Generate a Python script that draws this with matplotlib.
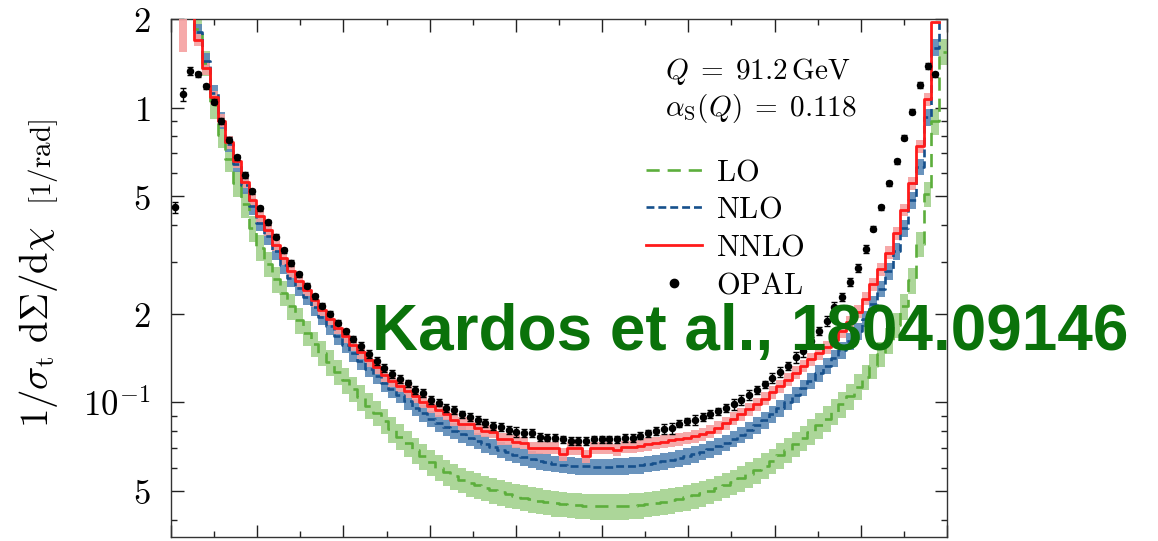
import numpy as np
import matplotlib
matplotlib.use("Agg")
import matplotlib.pyplot as plt
from matplotlib.lines import Line2D
from matplotlib.ticker import FixedLocator, FixedFormatter, NullFormatter, MultipleLocator

plt.rcParams['mathtext.fontset'] = 'cm'
plt.rcParams['font.family'] = ['DejaVu Serif']

# EEC histogram, 100 bins of 1.8 deg in chi
bin_width = 1.8
n_bins = 100

# OPAL data points (nan = no point shown)
opal = [0.459, 1.113, 1.335, 1.30, 1.181, 1.048, 0.901, 0.779, 0.679, 0.591,
        0.520, 0.456, 0.409, 0.365, 0.328, 0.297, 0.272, 0.249, 0.229, 0.213,
        0.200, 0.186, 0.174, 0.164, 0.155, 0.146, 0.138, 0.131, 0.125, 0.120,
        0.116, 0.110, 0.1075, 0.102, 0.0998, 0.0959, 0.0940, 0.0910, 0.0892, 0.0869,
        0.0853, 0.0833, 0.0825, 0.0804, 0.0793, 0.0787, 0.0787, 0.0762, 0.0759, 0.0759,
        0.0749, 0.0740, 0.0740, 0.0740, 0.0749, 0.0749, 0.0749, 0.0749, 0.0757, 0.0758,
        0.0771, 0.0784, 0.0798, 0.0810, 0.0815, 0.0847, 0.0862, 0.0873, 0.0890, 0.0914,
        0.0932, 0.0957, 0.0984, 0.102, 0.106, 0.110, 0.115, 0.121, 0.127, 0.133,
        0.142, 0.149, 0.162, 0.175, 0.189, 0.210, 0.228, 0.256, 0.286, 0.332,
        0.388, 0.459, 0.554, 0.658, 0.791, 0.969, 1.194, 1.385, 1.30, np.nan]

# OPAL errors in percent
opal_err_pct = [4, 5, 3, 2, 2, 2, 2, 2, 2, 2,
                2, 2, 2, 2, 2, 2, 2, 2, 2, 2,
                2, 2, 2, 2, 3, 3, 3, 3, 3, 3,
                3, 3, 3, 3, 3, 3, 3, 3, 3, 3,
                3, 3, 3, 3, 4, 3, 3, 3, 3, 3,
                3, 3, 3, 3, 3, 3, 3, 3, 3, 3,
                3, 3, 3, 4, 4, 3, 3, 4, 3, 3,
                3, 3, 4, 4, 4, 3, 3, 4, 4, 3,
                4, 4, 3, 3, 4, 4, 3, 3, 3, 3,
                2, 2, 2, 2, 2, 2, 2, 2, 2, 0]

nnlo = [np.nan, np.nan, 2.4, 1.70, 1.36, 1.083, 0.904, 0.763, 0.658, 0.561,
        0.485, 0.428, 0.385, 0.343, 0.308, 0.279, 0.259, 0.241, 0.222, 0.206,
        0.192, 0.179, 0.1675, 0.157, 0.148, 0.139, 0.1315, 0.1238, 0.1185, 0.114,
        0.109, 0.105, 0.1005, 0.097, 0.094, 0.0914, 0.0874, 0.0847, 0.0847, 0.0816,
        0.0800, 0.0795, 0.0752, 0.0752, 0.0735, 0.0728, 0.0701, 0.0701, 0.0701, 0.0701,
        0.0667, 0.0697, 0.0697, 0.0655, 0.0701, 0.0701, 0.0701, 0.0690, 0.0706, 0.0706,
        0.0712, 0.0721, 0.0728, 0.0735, 0.0742, 0.0750, 0.0757, 0.0768, 0.0780, 0.0795,
        0.0820, 0.0850, 0.0880, 0.0912, 0.0948, 0.0985, 0.1030, 0.1080, 0.1135, 0.1195,
        0.1260, 0.1330, 0.1400, 0.1470, 0.1540, 0.1630, 0.1740, 0.1870, 0.2030, 0.2250,
        0.2520, 0.2830, 0.3220, 0.3750, 0.4500, 0.5550, 0.7400, 1.070, 1.960, np.nan]

nlo = [np.nan, np.nan, 2.4, 1.80, 1.44, 1.125, 0.905, 0.755, 0.645, 0.545,
       0.462, 0.407, 0.366, 0.326, 0.292, 0.264, 0.245, 0.228, 0.210, 0.195,
       0.181, 0.168, 0.157, 0.147, 0.138, 0.130, 0.123, 0.116, 0.111, 0.106,
       0.101, 0.0960, 0.0917, 0.0880, 0.0850, 0.0825, 0.0800, 0.0778, 0.0758, 0.0740,
       0.0722, 0.0706, 0.0690, 0.0676, 0.0663, 0.0651, 0.0641, 0.0632, 0.0625, 0.0619,
       0.0614, 0.0610, 0.0608, 0.0606, 0.0605, 0.0605, 0.0605, 0.0606, 0.0608, 0.0610,
       0.0613, 0.0618, 0.0624, 0.0630, 0.0638, 0.0647, 0.0657, 0.0668, 0.0680, 0.0694,
       0.0710, 0.0730, 0.0752, 0.0777, 0.0805, 0.0835, 0.0870, 0.0910, 0.0955, 0.1005,
       0.1060, 0.1120, 0.1185, 0.1255, 0.1330, 0.1410, 0.1500, 0.1610, 0.1740, 0.1920,
       0.2150, 0.2430, 0.2780, 0.3250, 0.3900, 0.4850, 0.6300, 0.9300, 1.600, 2.4]

lo = [np.nan, np.nan, 2.4, 1.85, 1.42, 1.02, 0.81, 0.67, 0.555, 0.47,
      0.39, 0.335, 0.295, 0.262, 0.235, 0.212, 0.19, 0.172, 0.158, 0.147,
      0.137, 0.127, 0.119, 0.111, 0.104, 0.0975, 0.092, 0.0865, 0.081, 0.0765,
      0.0725, 0.0688, 0.0655, 0.0625, 0.0600, 0.0578, 0.0560, 0.0545, 0.0532, 0.0522,
      0.0513, 0.0503, 0.0495, 0.0488, 0.0481, 0.0475, 0.0469, 0.0464, 0.0459, 0.0455,
      0.0452, 0.0449, 0.0447, 0.0445, 0.0444, 0.0443, 0.0443, 0.0443, 0.0444, 0.0446,
      0.0448, 0.0452, 0.0456, 0.0460, 0.0465, 0.0470, 0.0477, 0.0484, 0.0492, 0.0501,
      0.0512, 0.0524, 0.0537, 0.0552, 0.0570, 0.0589, 0.0610, 0.0633, 0.0660, 0.0690,
      0.0722, 0.0757, 0.0795, 0.0835, 0.0880, 0.0930, 0.0985, 0.105, 0.113, 0.122,
      0.133, 0.146, 0.162, 0.183, 0.212, 0.260, 0.345, 0.51, 0.90, 1.55]

# scale uncertainty bands (relative half widths)
lo_band = 0.10
nlo_band = 0.065
nnlo_band = 0.05
nnlo_band_bin1 = (1.54, 2.5)   # first visible NNLO band block

legend_labels = ['LO', 'NLO', 'NNLO', 'OPAL']

c_lo, c_lo_band = '#5cae3c', '#a3d28e'
c_nlo, c_nlo_band = '#16508c', '#5a88b6'
c_nnlo, c_nnlo_band = '#ff1a1a', '#f5a0a0'

edges = np.arange(n_bins + 1) * bin_width
centers = edges[:-1] + bin_width / 2


def ext(v):
    v = np.asarray(v, dtype=float)
    return np.append(v, v[-1])


fig = plt.figure(figsize=(11.58, 5.41), dpi=100)
ax = fig.add_axes([171 / 1158, 4 / 541, 776 / 1158, 518 / 541])

# bands
lo_a = np.array(lo)
nlo_a = np.array(nlo)
nnlo_a = np.array(nnlo)
ax.fill_between(edges, ext(lo_a * (1 - lo_band)), ext(lo_a * (1 + lo_band)),
                step='post', color=c_lo_band, lw=0, alpha=0.9, zorder=1)
ax.fill_between(edges, ext(nlo_a * (1 - nlo_band)), ext(nlo_a * (1 + nlo_band)),
                step='post', color=c_nlo_band, lw=0, alpha=0.9, zorder=2)
nnlo_lo = nnlo_a * (1 - nnlo_band)
nnlo_hi = nnlo_a * (1 + nnlo_band)
nnlo_lo[1], nnlo_hi[1] = nnlo_band_bin1
ax.fill_between(edges, ext(nnlo_lo), ext(nnlo_hi),
                step='post', color=c_nnlo_band, lw=0, alpha=0.9, zorder=3)

# central lines
ax.step(edges, ext(lo), where='post', color=c_lo, lw=1.9, dashes=(5, 3), zorder=4)
ax.step(edges, ext(nlo), where='post', color=c_nlo, lw=1.9, dashes=(3, 1.5), zorder=5)
ax.step(edges, ext(nnlo), where='post', color=c_nnlo, lw=2.0, zorder=6)

# data
opal_a = np.array(opal)
ax.errorbar(centers, opal_a, yerr=opal_a * np.array(opal_err_pct) / 100.0,
            fmt='o', color='black', ms=4.4, elinewidth=1.0, capsize=2.5,
            capthick=1.0, zorder=7)

ax.set_yscale('log')
ax.set_xlim(0, 180)
ax.set_ylim(0.0349, 2.0)

yt = [0.05, 0.1, 0.2, 0.5, 1.0, 2.0]
ytl = ['$5$', '$10^{-1}$', '$2$', '$5$', '$1$', '$2$']
ax.yaxis.set_major_locator(FixedLocator(yt))
ax.yaxis.set_major_formatter(FixedFormatter(ytl))
ax.yaxis.set_minor_locator(FixedLocator([0.04, 0.06, 0.07, 0.08, 0.09, 0.3, 0.4,
                                         0.6, 0.7, 0.8, 0.9]))
ax.yaxis.set_minor_formatter(NullFormatter())
ax.xaxis.set_major_locator(MultipleLocator(20))
ax.xaxis.set_minor_locator(MultipleLocator(10))

ax.tick_params(which='both', direction='in', top=True, right=True,
               labelbottom=False, color='#222222', width=1.0)
ax.tick_params(which='major', length=9)
ax.tick_params(which='minor', length=4.5)
ax.tick_params(axis='y', which='major', labelsize=25, pad=15)
for s in ax.spines.values():
    s.set_color('#333333')
    s.set_linewidth(1.0)

# y label (two parts, the unit smaller)
fig.text(0.033, 0.395, r'$1/\sigma_{\mathrm{t}}\ \mathrm{d}\Sigma/\mathrm{d}\chi$',
         rotation=90, ha='center', va='center', fontsize=28)
fig.text(0.037, 0.70, r'$[1/\mathrm{rad}]$', rotation=90, ha='center',
         va='center', fontsize=21)

# annotation
ax.text(0.637, 0.898, r'$Q\;=\;91.2\,\mathrm{GeV}$', transform=ax.transAxes,
        fontsize=21, ha='left', va='center')
ax.text(0.637, 0.828, r'$\alpha_{\mathrm{S}}(Q)\;=\;0.118$', transform=ax.transAxes,
        fontsize=21, ha='left', va='center')

handles = [Line2D([], [], color=c_lo, lw=1.9, dashes=(5, 3)),
           Line2D([], [], color=c_nlo, lw=1.9, dashes=(3, 1.5)),
           Line2D([], [], color=c_nnlo, lw=2.0),
           Line2D([], [], color='black', ls='none', marker='o', ms=6)]
ax.legend(handles, [r'$\mathrm{%s}$' % s for s in legend_labels],
          loc='upper left', bbox_to_anchor=(0.612, 0.735), frameon=False,
          fontsize=22, handlelength=1.85, handletextpad=0.45, labelspacing=0.22,
          borderaxespad=0, borderpad=0)

# watermark
fig.text(0.321, 0.353, 'Kardos et al., 1804.09146', color='#0a720a',
         fontsize=46, fontweight='bold', family='Liberation Sans',
         ha='left', va='baseline', zorder=20)

fig.savefig('out.png', dpi=100)
